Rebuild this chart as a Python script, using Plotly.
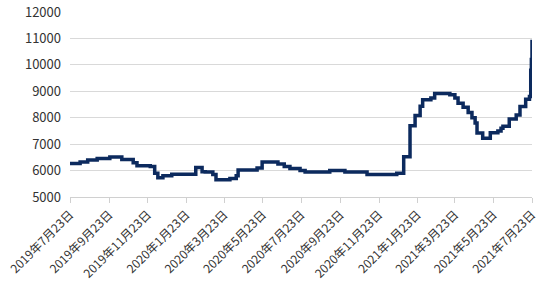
import plotly.graph_objects as go

dates = ["2019-07-23", "2019-08-08", "2019-08-20", "2019-09-04", "2019-09-24", "2019-10-13",
         "2019-10-31", "2019-11-06", "2019-11-27", "2019-12-04", "2019-12-09", "2019-12-17",
         "2019-12-31", "2020-02-07", "2020-02-17", "2020-02-22", "2020-03-05", "2020-03-10",
         "2020-04-01", "2020-04-11", "2020-04-14", "2020-05-14", "2020-05-22", "2020-06-16",
         "2020-06-26", "2020-07-05", "2020-07-21", "2020-07-29", "2020-09-06", "2020-09-30",
         "2020-11-04", "2020-12-21", "2021-01-01", "2021-01-11", "2021-01-19", "2021-01-27",
         "2021-01-31", "2021-02-13", "2021-02-19", "2021-03-15", "2021-03-23", "2021-03-28",
         "2021-04-05", "2021-04-13", "2021-04-19", "2021-04-24", "2021-04-27", "2021-05-06",
         "2021-05-18", "2021-05-30", "2021-06-04", "2021-06-07", "2021-06-17", "2021-06-28",
         "2021-07-04", "2021-07-13", "2021-07-19", "2021-07-21", "2021-07-22", "2021-07-23"]
prices = [6270, 6320, 6400, 6460, 6510, 6420,
          6300, 6180, 6150, 5900, 5730, 5800,
          5860, 6120, 5960, 5950, 5850, 5650,
          5700, 5800, 6020, 6100, 6320, 6250,
          6150, 6080, 6000, 5950, 6000, 5950,
          5850, 5900, 6520, 7700, 8080, 8430,
          8680, 8750, 8920, 8870, 8750, 8550,
          8400, 8200, 8000, 7800, 7420, 7220,
          7430, 7500, 7600, 7680, 7950, 8100,
          8420, 8700, 8800, 9800, 10200, 10950]

tick_dates = ["2019-07-23", "2019-09-23", "2019-11-23", "2020-01-23", "2020-03-23", "2020-05-23",
              "2020-07-23", "2020-09-23", "2020-11-23", "2021-01-23", "2021-03-23", "2021-05-23",
              "2021-07-23"]
tick_labels = ["2019年7月23日", "2019年9月23日", "2019年11月23日", "2020年1月23日", "2020年3月23日",
               "2020年5月23日", "2020年7月23日", "2020年9月23日", "2020年11月23日", "2021年1月23日",
               "2021年3月23日", "2021年5月23日", "2021年7月23日"]
y_ticks = [5000, 6000, 7000, 8000, 9000, 10000, 11000, 12000]

fig = go.Figure()
fig.add_trace(go.Scatter(x=dates, y=prices, mode="lines",
                         line=dict(color="#0c2a5e", width=3.5, shape="hv"),
                         showlegend=False))

fig.update_layout(
    width=550, height=297,
    margin=dict(l=70, r=18, t=12, b=100),
    paper_bgcolor="white", plot_bgcolor="white",
    font=dict(family="Noto Sans CJK SC, Noto Sans, sans-serif", color="#333333"),
    xaxis=dict(type="date", range=["2019-07-23", "2021-07-23"], automargin=False,
               tickmode="array", tickvals=tick_dates, ticktext=tick_labels,
               tickangle=-45, tickfont=dict(size=12, color="#333333"),
               showgrid=False, showline=True, linecolor="#d0d0d0", linewidth=1,
               ticks="outside", ticklen=5, tickcolor="#d0d0d0"),
    yaxis=dict(range=[5000, 12000], tickvals=y_ticks, tickformat="d", automargin=False,
               tickfont=dict(size=13, color="#333333"),
               showgrid=True, gridcolor="#d9d9d9", gridwidth=1,
               zeroline=False, showline=False, ticks="", ticklabelstandoff=8),
)

fig.write_html("out.html")
